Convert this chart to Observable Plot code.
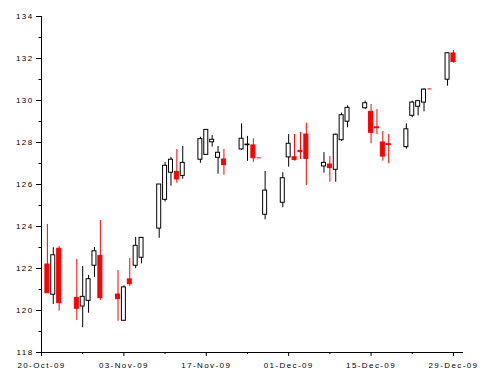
<!DOCTYPE html>
<html>
<head>
<meta charset="utf-8">
<script src="https://cdn.jsdelivr.net/npm/d3@7"></script>
<script src="https://cdn.jsdelivr.net/npm/@observablehq/plot@0.6"></script>
<style>
  html, body { margin: 0; padding: 0; background: #fff; }
  #chart svg text { letter-spacing: 1.4px; fill: #000; }
</style>
</head>
<body>
<div id="chart"></div>
<script>
// ---- data ----
const dates = [
  "2009-10-21","2009-10-22","2009-10-23","2009-10-26","2009-10-27","2009-10-28","2009-10-29","2009-10-30",
  "2009-11-02","2009-11-03","2009-11-04","2009-11-05","2009-11-06","2009-11-09","2009-11-10","2009-11-11",
  "2009-11-12","2009-11-13","2009-11-16","2009-11-17","2009-11-18","2009-11-19","2009-11-20","2009-11-23",
  "2009-11-24","2009-11-25","2009-11-26","2009-11-27","2009-11-30",
  "2009-12-01","2009-12-02","2009-12-03","2009-12-04","2009-12-07","2009-12-08","2009-12-09","2009-12-10",
  "2009-12-11","2009-12-14","2009-12-15","2009-12-16","2009-12-17","2009-12-18","2009-12-21","2009-12-22",
  "2009-12-23","2009-12-24","2009-12-25","2009-12-28","2009-12-29"
];
const open = [
  122.19,120.75,122.94,120.60,120.19,120.46,122.13,122.60,
  120.76,119.51,121.48,122.13,122.51,123.90,125.27,126.56,
  126.60,126.41,127.18,127.41,128.01,127.27,127.19,127.67,
  127.87,127.86,127.27,124.56,125.13,
  127.29,127.30,127.60,128.38,126.86,126.95,126.70,128.11,
  128.99,129.63,129.46,128.72,128.00,127.92,127.78,129.27,
  129.70,129.90,130.55,130.99,132.24
];
const high = [
  124.10,122.99,123.05,122.43,122.10,121.67,123.00,124.29,
  121.90,121.18,122.48,123.48,123.46,126.00,127.05,127.29,
  127.67,127.81,128.25,128.60,128.33,127.81,127.67,128.89,
  128.29,128.18,127.27,126.62,126.56,
  128.38,128.38,128.48,128.92,127.52,127.33,128.40,129.40,
  129.75,129.97,129.81,129.57,128.52,128.38,128.89,129.97,
  130.00,130.56,130.55,132.27,132.38
];
const low = [
  120.82,120.29,119.97,119.52,119.18,119.87,121.57,120.48,
  119.49,119.50,121.14,121.99,122.22,123.44,125.16,125.92,
  126.06,126.25,127.01,127.41,127.78,126.49,126.44,127.62,
  127.10,127.06,127.27,124.32,124.89,
  126.83,127.11,127.19,125.95,126.54,126.11,126.11,128.05,
  128.70,129.57,127.94,128.37,127.11,126.99,127.68,129.18,
  129.27,129.46,130.55,130.68,131.78
];
const close = [
  120.82,122.63,120.35,120.08,120.65,121.49,122.82,120.59,
  120.54,121.10,121.25,123.08,123.46,126.00,126.89,127.18,
  126.24,127.03,128.16,128.60,128.13,127.51,126.92,128.18,
  127.90,127.25,127.27,125.71,126.30,
  127.94,127.17,127.54,127.22,127.03,126.78,128.37,129.30,
  129.65,129.87,128.46,128.68,127.33,127.88,128.63,129.90,
  129.97,130.52,130.55,132.25,131.83
];
const xMajorTicks = ["2009-10-20","2009-11-03","2009-11-17","2009-12-01","2009-12-15","2009-12-29"];
const xMinorTicks = ["2009-10-27","2009-11-10","2009-11-24","2009-12-08","2009-12-22"];
const yMajorTicks = [118,120,122,124,126,128,130,132,134];
const yMinorTicks = [119,121,123,125,127,129,131,133];

// ---- build table ----
const DAY = 864e5;
const rows = dates.map((d, i) => ({
  date: new Date(d),
  open: open[i], high: high[i], low: low[i], close: close[i],
  up: close[i] > open[i]
}));
const upRows = rows.filter(d => d.up);
const downRows = rows.filter(d => !d.up);
const flatRows = rows.filter(d => d.close === d.open);
const half = 0.34 * DAY;

const xStart = new Date("2009-10-20");
const xEnd = new Date(Date.UTC(2009, 11, 30, 17, 0));

const chart = Plot.plot({
  width: 489,
  height: 378,
  marginLeft: 41,
  marginRight: 26,
  marginTop: 16,
  marginBottom: 26,
  style: {fontFamily: "'Liberation Sans', Arial, sans-serif", fontSize: "8px", background: "#fff", color: "#000"},
  x: {type: "utc", domain: [xStart, xEnd]},
  y: {domain: [118, 134]},
  marks: [
    Plot.ruleX(rows, {x: "date", y1: "low", y2: "high", stroke: d => d.up ? "#000" : "#ff0000", strokeWidth: 1}),
    Plot.rect(upRows, {
      x1: d => new Date(+d.date - half), x2: d => new Date(+d.date + half),
      y1: "open", y2: "close", fill: "#fff", stroke: "#000", strokeWidth: 1
    }),
    Plot.rect(downRows, {
      x1: d => new Date(+d.date - half), x2: d => new Date(+d.date + half),
      y1: "open", y2: "close", fill: "#ff0000", stroke: "#ff0000", strokeWidth: 1
    }),
    Plot.ruleY(flatRows, {
      x1: d => new Date(+d.date - half), x2: d => new Date(+d.date + half),
      y: "close", stroke: "#ff0000", strokeWidth: 1
    }),
    Plot.ruleX([xStart], {stroke: "#000"}),
    Plot.ruleY([118], {stroke: "#000"}),
    Plot.axisX({ticks: xMajorTicks.map(d => new Date(d)), tickSize: 4, tickPadding: 6,
      tickFormat: d3.utcFormat("%d-%b-%y"), label: null}),
    Plot.axisX({ticks: xMinorTicks.map(d => new Date(d)), tickSize: 2, tickFormat: () => "", label: null}),
    Plot.axisY({ticks: yMajorTicks, tickSize: 5, tickPadding: 3, tickFormat: d => String(d), label: null}),
    Plot.axisY({ticks: yMinorTicks, tickSize: 2.5, tickFormat: () => "", label: null})
  ]
});
document.getElementById("chart").appendChild(chart);
</script>
</body>
</html>
